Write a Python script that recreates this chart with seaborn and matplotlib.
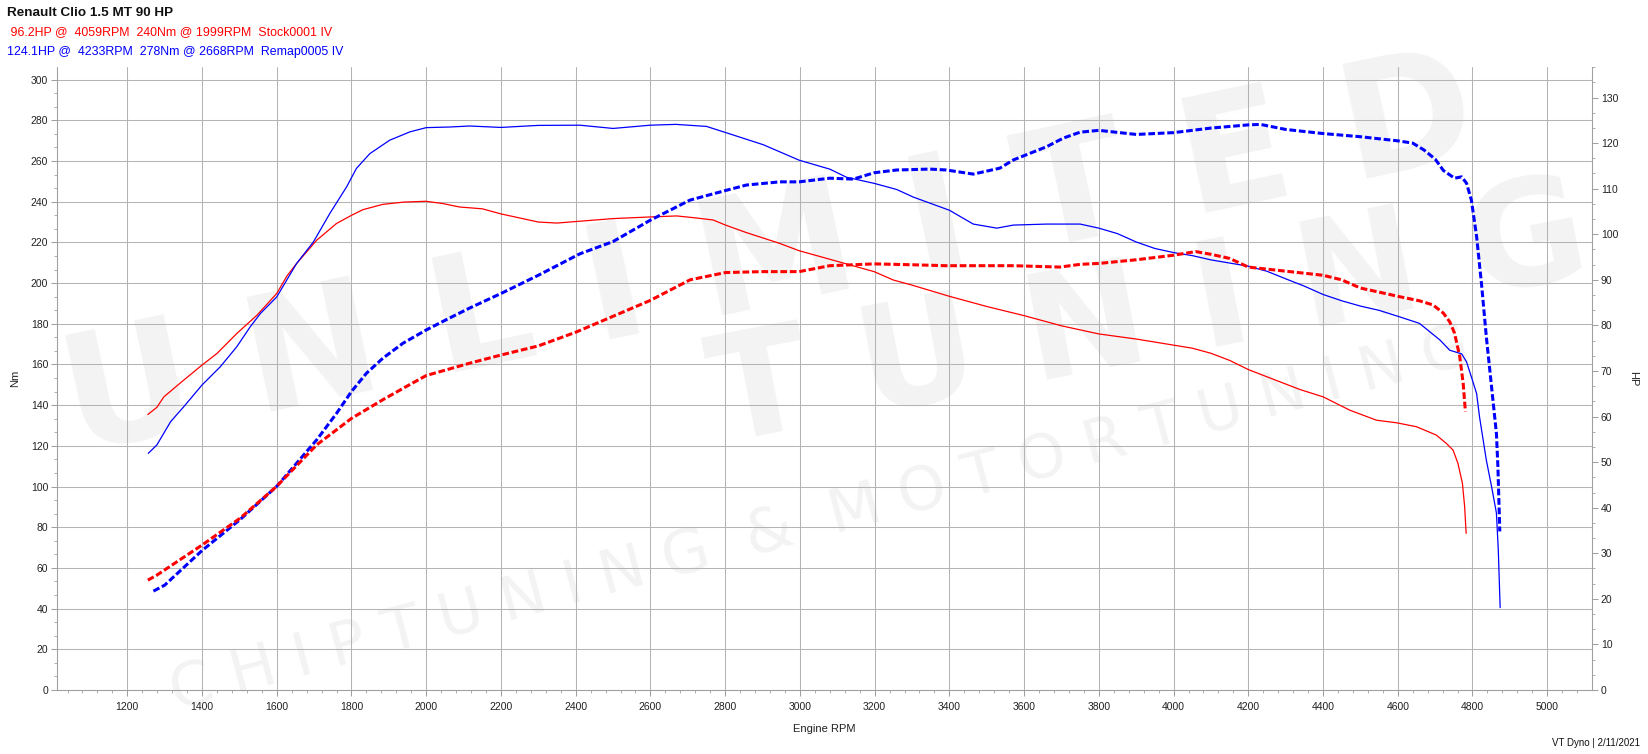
import matplotlib
matplotlib.use("Agg")
import matplotlib.pyplot as plt
from matplotlib.ticker import MultipleLocator
import seaborn as sns
import pandas as pd

# Stock run (red)
stock_tq_rpm = [1255, 1279, 1298, 1351, 1400, 1440, 1493, 1547, 1600, 1627, 1653, 1707, 1760, 1800,
                1831, 1884, 1940, 1999, 2044, 2089, 2150, 2200, 2250, 2300, 2350, 2411, 2500, 2600,
                2670, 2723, 2768, 2801, 2857, 2946, 2998, 3080, 3199, 3250, 3300, 3400, 3500, 3600,
                3700, 3800, 3900, 4000, 4050, 4100, 4150, 4200, 4270, 4338, 4400, 4472, 4543, 4598,
                4650, 4703, 4730, 4748, 4761, 4773, 4779, 4783]
stock_tq = [135.4, 138.9, 144.1, 152.3, 159.7, 165.4, 175.2, 184.2, 194.9, 203.4, 209.6, 221.1, 229.3, 233.3,
            236.1, 238.7, 239.8, 240.2, 239.1, 237.4, 236.5, 234.0, 232.0, 230.0, 229.5, 230.4, 231.7, 232.5,
            233.0, 232.0, 231.0, 228.5, 224.8, 219.5, 215.9, 211.7, 205.6, 201.5, 199.0, 193.5, 188.5, 184.0,
            179.0, 175.0, 172.5, 169.5, 168.0, 165.5, 162.0, 157.5, 152.5, 147.7, 144.1, 137.5, 132.6, 131.3,
            129.4, 125.3, 121.2, 117.9, 111.4, 101.6, 90.1, 77.0]

stock_hp_rpm = [1255, 1279, 1400, 1502, 1600, 1707, 1760, 1800, 1884, 1960, 2000, 2116, 2200, 2300,
                2400, 2500, 2600, 2706, 2801, 2900, 2998, 3080, 3199, 3303, 3392, 3571, 3696, 3750,
                3800, 3900, 4000, 4059, 4100, 4150, 4200, 4300, 4400, 4450, 4500, 4550, 4605, 4658,
                4694, 4722, 4739, 4752, 4766, 4775, 4781]
stock_hp = [24.1, 25.2, 31.8, 37.7, 44.7, 53.8, 57.1, 59.6, 63.7, 67.2, 69.0, 71.7, 73.5, 75.5,
            78.5, 82.0, 85.5, 90.0, 91.6, 91.8, 91.8, 93.1, 93.5, 93.3, 93.1, 93.1, 92.8, 93.4,
            93.6, 94.4, 95.4, 96.2, 95.6, 94.7, 92.8, 91.9, 91.0, 90.0, 88.2, 87.3, 86.3, 85.4,
            84.5, 82.7, 80.8, 78.3, 73.1, 67.3, 61.1]

# Remap run (blue)
remap_tq_rpm = [1256, 1279, 1316, 1351, 1400, 1449, 1493, 1529, 1556, 1600, 1653, 1698, 1742, 1787,
                1813, 1849, 1902, 1956, 2000, 2062, 2116, 2200, 2300, 2411, 2500, 2600, 2668, 2750,
                2801, 2902, 2998, 3080, 3125, 3199, 3259, 3303, 3400, 3464, 3527, 3571, 3660, 3750,
                3800, 3850, 3900, 3950, 4000, 4050, 4100, 4200, 4250, 4300, 4350, 4400, 4450, 4500,
                4550, 4605, 4658, 4713, 4739, 4771, 4784, 4797, 4811, 4819, 4837, 4851, 4864, 4869, 4874]
remap_tq = [116.3, 120.4, 131.9, 139.2, 149.9, 158.9, 168.7, 178.5, 185.0, 193.2, 209.6, 220.2, 234.2, 247.3,
            256.3, 263.6, 270.2, 274.3, 276.4, 276.7, 277.2, 276.5, 277.5, 277.6, 276.0, 277.6, 278.0, 277.0,
            274.0, 268.0, 260.4, 256.0, 252.0, 249.0, 246.0, 242.3, 235.8, 229.0, 227.0, 228.5, 229.0, 229.0,
            227.0, 224.3, 220.2, 217.0, 215.0, 213.5, 211.4, 208.3, 205.8, 202.1, 198.5, 194.4, 191.3, 188.7,
            186.6, 183.4, 180.2, 172.0, 167.0, 165.2, 161.3, 153.9, 145.7, 134.0, 113.0, 100.0, 87.0, 69.0, 40.5]

remap_hp_rpm = [1270, 1300, 1400, 1502, 1600, 1707, 1760, 1800, 1840, 1884, 1938, 2000, 2062, 2116,
                2200, 2300, 2411, 2500, 2600, 2706, 2801, 2857, 2946, 2998, 3080, 3143, 3199, 3259,
                3348, 3392, 3464, 3535, 3571, 3660, 3705, 3750, 3800, 3900, 4000, 4100, 4200, 4233,
                4300, 4400, 4500, 4600, 4640, 4670, 4700, 4722, 4752, 4771, 4784, 4797, 4811, 4824,
                4837, 4850, 4864, 4868, 4873]
remap_hp = [21.7, 23.0, 30.6, 37.4, 44.7, 54.9, 60.7, 65.5, 69.5, 72.8, 76.1, 79.0, 81.6, 83.8,
            87.0, 91.0, 95.7, 98.4, 103.1, 107.5, 109.6, 110.8, 111.5, 111.5, 112.3, 112.1, 113.5, 114.1,
            114.3, 114.1, 113.2, 114.5, 116.3, 119.2, 121.1, 122.4, 122.8, 121.9, 122.3, 123.3, 124.0, 124.1,
            123.0, 122.1, 121.4, 120.5, 120.0, 118.5, 116.5, 114.0, 112.3, 112.6, 111.2, 107.5, 99.5, 89.2,
            77.5, 67.3, 56.3, 49.0, 34.8]

title = "Renault Clio 1.5 MT 90 HP"
stock_label = " 96.2HP @  4059RPM  240Nm @ 1999RPM  Stock0001 IV"
remap_label = "124.1HP @  4233RPM  278Nm @ 2668RPM  Remap0005 IV"

RED = "#ff0000"
BLUE = "#0000ff"
GRID = "#b4b4b4"
AXIS = "#a0a0a0"
TEXT = "#222222"

sns.set_style("white")
plt.rcParams['font.family'] = ['Liberation Sans', 'DejaVu Sans']

W, H = 1648, 754
fig = plt.figure(figsize=(W / 100, H / 100), dpi=100)
fig.patch.set_facecolor("white")

# axes box in pixels: left 57, right 1592, top 67, bottom 690
ax = fig.add_axes([57.3 / W, (H - 690) / H, (1591.7 - 57.3) / W, (690 - 67) / H])
ax.patch.set_visible(False)
ax2 = ax.twinx()

# faint watermark behind everything
wm = "#f3f3f3"
fig.text(770 / W, 1 - 260 / H, "U N L I M I T E D", fontsize=115, fontweight="bold", color=wm,
         family="DejaVu Sans", rotation=12, ha="center", va="center", rotation_mode="anchor", zorder=-5)
fig.text(1150 / W, 1 - 318 / H, "T U N I N G", fontsize=105, fontweight="bold", color=wm,
         family="DejaVu Sans", rotation=11, ha="center", va="center", rotation_mode="anchor", zorder=-5)
fig.text(820 / W, 1 - 520 / H, "C H I P T U N I N G  &  M O T O R T U N I N G", fontsize=44, color=wm,
         family="DejaVu Sans", rotation=15, ha="center", va="center", rotation_mode="anchor", zorder=-5)

st = pd.DataFrame({"rpm": stock_tq_rpm, "val": stock_tq})
rt = pd.DataFrame({"rpm": remap_tq_rpm, "val": remap_tq})
sh = pd.DataFrame({"rpm": stock_hp_rpm, "val": stock_hp})
rh = pd.DataFrame({"rpm": remap_hp_rpm, "val": remap_hp})

sns.lineplot(data=st, x="rpm", y="val", ax=ax, color=RED, linewidth=0.9, estimator=None)
sns.lineplot(data=rt, x="rpm", y="val", ax=ax, color=BLUE, linewidth=0.9, estimator=None)
sns.lineplot(data=rh, x="rpm", y="val", ax=ax2, color=BLUE, linewidth=2.2, estimator=None,
             dashes=False).lines[-1].set_dashes((2.2, 0.9))
sns.lineplot(data=sh, x="rpm", y="val", ax=ax2, color=RED, linewidth=2.2, estimator=None,
             dashes=False).lines[-1].set_dashes((2.2, 0.9))

ax.set_xlim(1012.7, 5119)
ax.set_ylim(0, 306.2)
ax2.set_ylim(0, 136.7)

ax.xaxis.set_major_locator(MultipleLocator(200))
ax.xaxis.set_minor_locator(MultipleLocator(40))
ax.yaxis.set_major_locator(MultipleLocator(20))
ax.yaxis.set_minor_locator(MultipleLocator(20 / 3))
ax2.yaxis.set_major_locator(MultipleLocator(10))
ax2.yaxis.set_minor_locator(MultipleLocator(10 / 3))

ax.grid(True, which="major", axis="both", color=GRID, linewidth=0.75)
ax.set_axisbelow(True)
ax2.grid(False)

for a in (ax, ax2):
    a.spines["top"].set_visible(False)
    for side in ("left", "bottom", "right"):
        a.spines[side].set_color(AXIS)
        a.spines[side].set_linewidth(0.75)
    a.tick_params(which="major", length=4, width=0.75, color=AXIS, labelsize=7.5, labelcolor=TEXT, pad=2.5)
    a.tick_params(which="minor", length=2.5, width=0.6, color=AXIS)
ax.tick_params(axis="both", which="both", direction="out", left=True, bottom=True)
ax.tick_params(axis="x", which="major", pad=5)
ax2.tick_params(axis="y", which="both", direction="out", right=True)

ax.set_xlabel("Engine RPM", fontsize=8, color=TEXT, labelpad=8)
ax.set_ylabel("Nm", fontsize=8, color=TEXT, labelpad=8)
ax2.set_ylabel("HP", fontsize=8, color=TEXT, rotation=270, labelpad=14)

fig.text(7 / W, 1 - 13.5 / H, title, fontsize=9.7, fontweight="bold", color="#111111", va="center")
fig.text(7 / W, 1 - 32.5 / H, stock_label, fontsize=8.9, color=RED, va="center")
fig.text(7 / W, 1 - 51.5 / H, remap_label, fontsize=8.9, color=BLUE, va="center")
fig.text(1640 / W, 1 - 743.5 / H, "VT Dyno | 2/11/2021", fontsize=7, color="#111111",
         ha="right", va="center")

fig.savefig("out.png", dpi=100, facecolor="white")
